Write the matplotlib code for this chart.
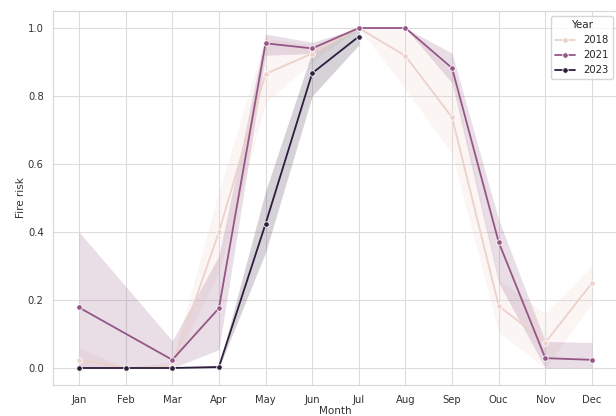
import matplotlib
matplotlib.use("Agg")
import matplotlib.pyplot as plt
import seaborn as sns
from matplotlib.colors import Normalize

# monthly fire risk (mean with 95% band) per year
months = ["Jan", "Feb", "Mar", "Apr", "May", "Jun", "Jul", "Aug", "Sep", "Ouc", "Nov", "Dec"]

months_2018 = months
risk_2018 = [0.025, 0.0, 0.005, 0.40, 0.865, 0.925, 1.0, 0.918, 0.737, 0.183, 0.075, 0.25]
low_2018 = [0.0, 0.0, 0.0, 0.28, 0.78, 0.90, 1.0, 0.82, 0.63, 0.105, 0.0, 0.19]
high_2018 = [0.06, 0.0, 0.02, 0.52, 0.97, 0.95, 1.0, 1.0, 0.87, 0.26, 0.16, 0.30]

months_2021 = ["Jan", "Mar", "Apr", "May", "Jun", "Jul", "Aug", "Sep", "Ouc", "Nov", "Dec"]
risk_2021 = [0.178, 0.024, 0.176, 0.955, 0.94, 1.0, 1.0, 0.882, 0.37, 0.029, 0.024]
low_2021 = [0.0, 0.0, 0.054, 0.92, 0.925, 1.0, 1.0, 0.838, 0.25, 0.0, 0.0]
high_2021 = [0.40, 0.08, 0.33, 0.982, 0.958, 1.0, 1.0, 0.926, 0.436, 0.078, 0.075]

months_2023 = ["Jan", "Feb", "Mar", "Apr", "May", "Jun", "Jul"]
risk_2023 = [0.0, 0.0, 0.0, 0.003, 0.424, 0.867, 0.975]
low_2023 = [0.0, 0.0, 0.0, 0.0, 0.34, 0.80, 0.95]
high_2023 = [0.0, 0.0, 0.0, 0.006, 0.52, 0.93, 1.0]

years = [2018, 2021, 2023]
series = {
    2018: (months_2018, risk_2018, low_2018, high_2018),
    2021: (months_2021, risk_2021, low_2021, high_2021),
    2023: (months_2023, risk_2023, low_2023, high_2023),
}

sns.set_style("whitegrid", {"grid.color": "#dcdcdc", "axes.edgecolor": "#d6d6d6"})
plt.rcParams["font.family"] = ["DejaVu Sans"]
plt.rcParams["font.size"] = 7.2

cmap = sns.cubehelix_palette(as_cmap=True)
norm = Normalize(min(years), max(years))

fig = plt.figure(figsize=(6.16, 4.16), dpi=100)
ax = fig.add_axes([53.4 / 616, 1 - 385 / 416, 564.2 / 616, 374 / 416])

pos = {m: i for i, m in enumerate(months)}
for year in years:
    m, risk, low, high = series[year]
    x = [pos[k] for k in m]
    color = cmap(norm(year))
    ax.fill_between(x, low, high, color=color, alpha=0.2, linewidth=0)
    ax.plot(x, risk, color=color, lw=1.3, marker="o", markersize=4,
            markeredgecolor="w", markeredgewidth=0.6, label=str(year))

ax.set_xticks(range(len(months)))
ax.set_xticklabels(months)
ax.set_xlim(-0.55, len(months) - 1 + 0.55)
ax.set_ylim(-0.05, 1.05)
ax.set_yticks([0.0, 0.2, 0.4, 0.6, 0.8, 1.0])
ax.tick_params(labelsize=7.2, colors="#333333")
ax.set_xlabel("Month", fontsize=7.5, labelpad=1, color="#333333")
ax.set_ylabel("Fire risk", fontsize=7.5, color="#333333", labelpad=1)

ax.legend(title="Year", loc="upper right", fontsize=7.2, title_fontsize=7.5)

fig.savefig("out.png", dpi=100)
